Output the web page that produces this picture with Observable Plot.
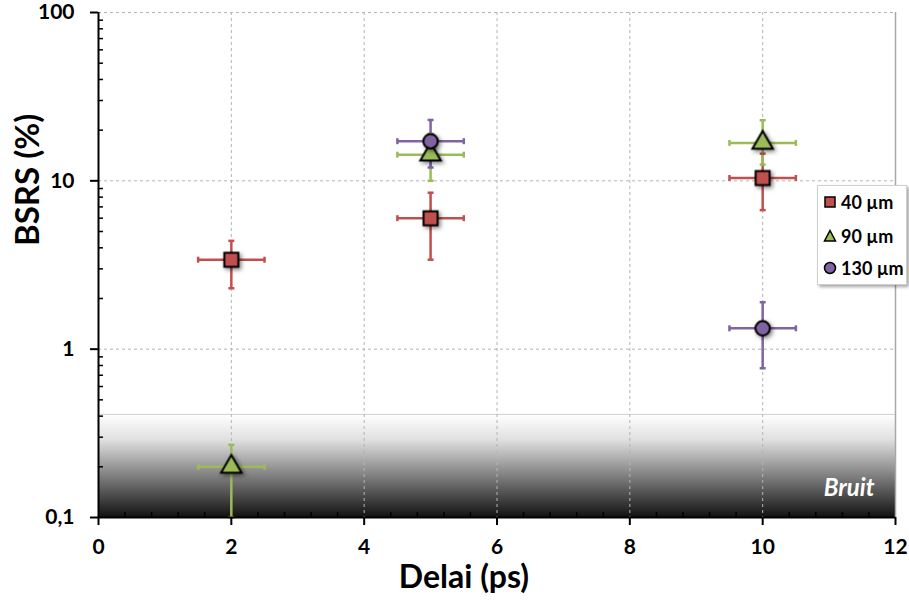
<!DOCTYPE html>
<html><head><meta charset="utf-8">
<script src="https://cdn.jsdelivr.net/npm/d3@7"></script>
<script src="https://cdn.jsdelivr.net/npm/@observablehq/plot@0.6"></script>
<style>
body{margin:0;background:#fff;font-family:Lato,"Open Sans",sans-serif;}
#wrap{position:relative;width:909px;height:607px;}
#legend{position:absolute;left:817px;top:185px;width:90px;height:100px;background:#fff;border:1px solid #d0d0d0;box-shadow:2px 2px 3px rgba(0,0,0,0.35);box-sizing:border-box;}
#legend .item{position:absolute;left:5px;display:flex;align-items:center;font-weight:bold;font-size:18px;color:#000;}
#legend svg{margin-right:4px;}
</style></head><body><div id="wrap"></div><script>
// ---- data ----
const seriesNames = ["40 µm", "90 µm", "130 µm"];
const seriesColors = ["#C0504D", "#9BBB59", "#8064A2"];
const seriesSymbols = ["square", "triangle", "circle"];

const delay40 = [2, 5, 10];
const bsrs40 = [3.4, 6.0, 10.4];
const low40 = [2.3, 3.4, 6.7];
const high40 = [4.4, 8.5, 14.5];

const delay90 = [2, 5, 10];
const bsrs90 = [0.2, 14.3, 16.8];
const low90 = [0.1, 10.0, 12.5];
const high90 = [0.27, 19.0, 22.9];

const delay130 = [5, 10];
const bsrs130 = [17.2, 1.33];
const low130 = [12.0, 0.77];
const high130 = [23.0, 1.9];

const delayErr = 0.5;
const noiseLevel = [0.41];
const noiseLabel = ["Bruit"];

const xTicks = [0, 2, 4, 6, 8, 10, 12];
const yTicks = [0.1, 1, 10, 100];
const yTickLabels = ["0,1", "1", "10", "100"];
const xLabel = ["Delai (ps)"];
const yLabel = ["BSRS (%)"];

// ---- build table ----
const rows = [];
function addSeries(name, xs, ys, los, his) {
  xs.forEach((x, j) => rows.push({series: name, x, y: ys[j], lo: los[j], hi: his[j]}));
}
addSeries(seriesNames[0], delay40, bsrs40, low40, high40);
addSeries(seriesNames[1], delay90, bsrs90, low90, high90);
addSeries(seriesNames[2], delay130, bsrs130, low130, high130);

const xMinor = d3.range(0, 12.001, 0.4).filter(v => Math.abs(v / 2 - Math.round(v / 2)) > 1e-6);
const yMinor = [];
[0.1, 1, 10].forEach(d => { for (let k = 2; k <= 9; k++) yMinor.push(d * k); });

const capH = {draw(ctx, size) { const r = Math.sqrt(size / Math.PI); ctx.moveTo(-r, 0); ctx.lineTo(r, 0); }};
const capV = {draw(ctx, size) { const r = Math.sqrt(size / Math.PI); ctx.moveTo(0, -r); ctx.lineTo(0, r); }};

const vCaps = rows.flatMap(d => [{series: d.series, x: d.x, y: d.lo}, {series: d.series, x: d.x, y: d.hi}]);
const hCaps = rows.flatMap(d => [{series: d.series, x: d.x - delayErr, y: d.y}, {series: d.series, x: d.x + delayErr, y: d.y}]);
const markerR = [7.9, 7.6, 7.2];
const gridStyle = {stroke: "#b4b4b4", strokeDasharray: "3,3", strokeWidth: 1};

const chart = Plot.plot({
  width: 909, height: 607,
  marginLeft: 98, marginRight: 14, marginTop: 12, marginBottom: 90,
  style: {fontFamily: "Lato, 'Open Sans', sans-serif", background: "#fff", color: "#000"},
  x: {domain: [xTicks[0], xTicks[xTicks.length - 1]]},
  y: {type: "log", domain: [yTicks[0], yTicks[yTicks.length - 1]]},
  color: {domain: seriesNames, range: seriesColors},
  symbol: {domain: seriesNames, range: seriesSymbols},
  marks: [
    Plot.rect(noiseLevel, {x1: xTicks[0], x2: xTicks[xTicks.length - 1], y1: yTicks[0], y2: d => d, fill: "url(#noiseGrad)"}),
    Plot.ruleY(noiseLevel, {stroke: "#cfcfcf", strokeWidth: 1}),
    Plot.ruleX(xTicks.filter(v => v > 0 && v < 12), gridStyle),
    Plot.ruleY(yTicks.filter(v => v > 0.1), gridStyle),
    Plot.ruleX([xTicks[xTicks.length - 1]], {stroke: "#a8a8a8", strokeWidth: 1.5}),
    Plot.text(noiseLabel, {frameAnchor: "bottom-right", dx: -21, dy: -22, textAnchor: "end", lineAnchor: "bottom", fill: "#fff", fontSize: 24, fontWeight: "bold", fontStyle: "italic"}),
    // error bars
    Plot.link(rows, {x1: d => d.x - delayErr, x2: d => d.x + delayErr, y1: "y", y2: "y", stroke: "series", strokeWidth: 2.5}),
    Plot.link(rows, {x1: "x", x2: "x", y1: "lo", y2: "hi", stroke: "series", strokeWidth: 2.5}),
    Plot.dot(vCaps, {x: "x", y: "y", symbol: capH, r: 3, fill: "none", stroke: "series", strokeWidth: 2.5}),
    Plot.dot(hCaps, {x: "x", y: "y", symbol: capV, r: 3, fill: "none", stroke: "series", strokeWidth: 2.5}),
    // markers
    ...seriesNames.map((s, i) => Plot.dot(rows.filter(d => d.series === s), {x: "x", y: "y", symbol: "series", fill: "series", stroke: "#000", strokeWidth: 2, r: markerR[i]})),
    // axes
    Plot.axisX({ticks: xMinor, tickSize: -5, text: null, label: null, strokeWidth: 1.5}),
    Plot.axisY({ticks: yMinor, tickSize: -5, text: null, label: null, strokeWidth: 1.5}),
    Plot.axisX({ticks: xTicks, tickSize: 8, tickPadding: 14, fontSize: 21, fontWeight: "bold", label: null, strokeWidth: 2}),
    Plot.axisY({ticks: yTicks, tickSize: 8, tickPadding: 16, tickFormat: d => yTickLabels[yTicks.indexOf(d)], fontSize: 21, fontWeight: "bold", label: null, strokeWidth: 2}),
    Plot.ruleX([xTicks[0]], {stroke: "#000", strokeWidth: 2}),
    Plot.ruleY([yTicks[0]], {stroke: "#000", strokeWidth: 2}),
    Plot.text(xLabel, {frameAnchor: "bottom", dx: -33, dy: 70, fontSize: 32, fontWeight: "bold"}),
    Plot.text(yLabel, {frameAnchor: "left", dx: -70, dy: -19, rotate: -90, fontSize: 33, fontWeight: "bold"})
  ]
});

d3.select(chart).insert("defs", ":first-child").html(
  '<linearGradient id="noiseGrad" x1="0" y1="0" x2="0" y2="1">' +
  '<stop offset="0" stop-color="#ffffff"/><stop offset="0.25" stop-color="#e0e0e0"/><stop offset="1" stop-color="#121212"/></linearGradient>');

const dotGroups = d3.select(chart).selectAll('g[aria-label="dot"]').nodes();
dotGroups.slice(-seriesNames.length).forEach(g => g.style.filter = "drop-shadow(2px 2px 2px rgba(0,0,0,0.5))");

const wrap = document.getElementById("wrap");
wrap.appendChild(chart);

// legend
const legend = document.createElement("div");
legend.id = "legend";
const symPaths = {
  square: '<rect x="2" y="2" width="10" height="10" />',
  triangle: '<path d="M7,1.5 L12.5,12 L1.5,12 Z" />',
  circle: '<circle cx="7" cy="7" r="5.5" />'
};
const itemTops = [5, 39, 71];
seriesNames.forEach((s, i) => {
  const it = document.createElement("div");
  it.className = "item";
  it.style.top = itemTops[i] + "px";
  it.innerHTML = `<svg width="14" height="14" viewBox="0 0 14 14"><g fill="${seriesColors[i]}" stroke="#000" stroke-width="1.5">${symPaths[seriesSymbols[i]]}</g></svg><span>${s}</span>`;
  legend.appendChild(it);
});
wrap.appendChild(legend);
</script></body></html>
